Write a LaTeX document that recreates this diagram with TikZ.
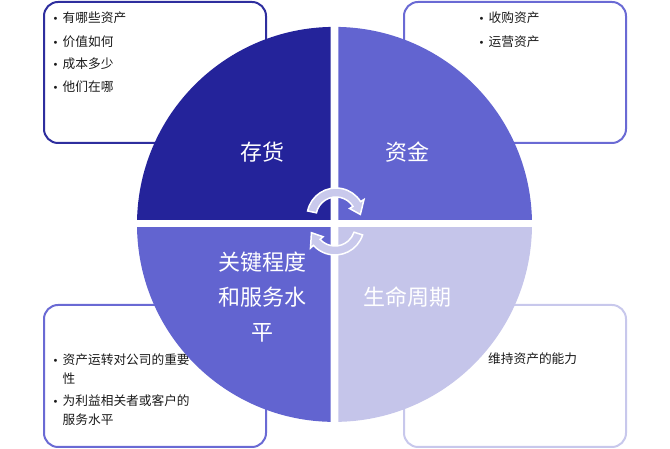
\documentclass[tikz,border=0pt]{standalone}
\usepackage{fontspec}
\newfontfamily\cjk{Noto Sans CJK SC}
\newfontfamily\sym{DejaVu Sans}
\usetikzlibrary{calc}
\definecolor{qdark}{HTML}{24239A}
\definecolor{qmid}{HTML}{6264D0}
\definecolor{qlight}{HTML}{C5C5EA}
\definecolor{bdark}{HTML}{2E2E9E}
\definecolor{bmid}{HTML}{6A6AD4}
\definecolor{blight}{HTML}{C8C8EC}
\definecolor{txt}{HTML}{1A1A1A}
\definecolor{cycfill}{HTML}{C9C9EC}
\newcommand\bul{\makebox[10pt][l]{{\sym\fontsize{10}{12}\selectfont •}}}
\begin{document}
\begin{tikzpicture}[x=1pt,y=1pt,
  infobox/.style={draw, line width=2pt, rounded corners=14pt, fill=white, inner sep=0pt},
  item/.style={anchor=west, inner sep=0pt, font=\cjk\fontsize{12.7}{15}\selectfont, text=txt},
  big/.style={font=\cjk\fontsize{22}{35}\selectfont, text=white, align=center, inner sep=0pt},
  cyc/.style={fill=cycfill, draw=white, line width=1.5pt, line join=miter}]
\useasboundingbox (0,0) rectangle (670,449);
% info boxes
\node[infobox, draw=bdark, minimum width=222, minimum height=141] (boxTL) at (155,376.5) {};
\node[infobox, draw=bmid,  minimum width=222, minimum height=141] (boxTR) at (515,376.5) {};
\node[infobox, draw=bmid,  minimum width=222, minimum height=142] (boxBL) at (155,73) {};
\node[infobox, draw=blight,minimum width=222, minimum height=142] (boxBR) at (515,73) {};
% box texts
\node[item] (tl1) at (52.5,431) {\bul 有哪些资产};
\node[item] (tl2) at (52.5,407.5) {\bul 价值如何};
\node[item] (tl3) at (52.5,385) {\bul 成本多少};
\node[item] (tl4) at (52.5,362.5) {\bul 他们在哪};
\node[item] (tr1) at (478.5,431) {\bul 收购资产};
\node[item] (tr2) at (478.5,407.5) {\bul 运营资产};
\node[item] (bl1) at (52.5,89) {\bul 资产运转对公司的重要};
\node[item] (bl2) at (62.5,70) {性};
\node[item] (bl3) at (52.5,48) {\bul 为利益相关者或客户的};
\node[item] (bl4) at (62.5,29) {服务水平};
\node[item] (br1) at (488,90) {维持资产的能力};
% quadrants
\coordinate (C) at (334.5,224.6);
\begin{scope}\clip (330.7,229) rectangle (100,460); \fill[qdark] (C) circle (197.5); \end{scope}
\begin{scope}\clip (338.3,229) rectangle (570,460); \fill[qmid] (C) circle (197.5); \end{scope}
\begin{scope}\clip (330.7,221.3) rectangle (100,0); \fill[qmid] (C) circle (197.5); \end{scope}
\begin{scope}\clip (338.3,221.3) rectangle (570,0); \fill[qlight] (C) circle (197.5); \end{scope}
% quadrant labels
\node[big] (q1) at (262,297) {存货};
\node[big] (q2) at (407,297) {资金};
\node[big] (q3) at (262,152) {关键程度\\和服务水\\平};
\node[big] (q4) at (407,152) {生命周期};
% cycle arrows
\coordinate (CT) at (336,232);
\coordinate (CB) at (335,223);
\filldraw[cyc] ($(CT)+(168:29)$) arc[start angle=168, end angle=32, radius=29]
  -- ($(CT)+(32:33)$) -- ($(CT)+(6:24.5)$) -- ($(CT)+(32:16)$) -- ($(CT)+(32:20)$)
  arc[start angle=32, end angle=168, radius=20] -- cycle;
\filldraw[cyc] ($(CB)+(-18:29)$) arc[start angle=-18, end angle=-138, radius=29]
  -- ($(CB)+(-138:33)$) -- ($(CB)+(-164:24.5)$) -- ($(CB)+(-138:16)$) -- ($(CB)+(-138:20)$)
  arc[start angle=-138, end angle=-18, radius=20] -- cycle;
\end{tikzpicture}
\end{document}
